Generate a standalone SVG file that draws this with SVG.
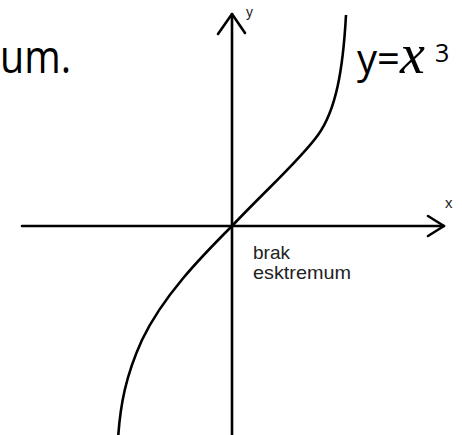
<svg xmlns="http://www.w3.org/2000/svg" width="462" height="435" viewBox="0 0 462 435">
<style>
.ax{stroke:#000;stroke-width:2.6;fill:none;stroke-linecap:round;stroke-linejoin:round}
.cv{stroke:#000;stroke-width:2.6;fill:none}
.big{font-family:"Open Sans","Liberation Sans",sans-serif;font-size:46px;fill:#000}
.sm{font-family:"Liberation Sans",Arial,sans-serif;fill:#222}
</style>
<rect width="462" height="435" fill="#fff"/>
<g id="axes">
<line class="ax" x1="22" y1="226" x2="444" y2="226"/>
<polyline class="ax" points="428,216 444,226 428,236"/>
<line class="ax" x1="232" y1="14" x2="232" y2="440"/>
<polyline class="ax" points="218,34 232,14 245,33"/>
</g>
<g id="curve">
<path class="cv" d="M346,15 C343,70 336,110 318,135 C300,160 268,188 232,226 C200,258 163,296 142,340 C126,375 120,405 118,440"/>
</g>
<g id="labels">
<text class="big" x="0" y="73" textLength="71" lengthAdjust="spacingAndGlyphs">um.</text>
<text x="357" y="73" font-family="'Open Sans','Liberation Sans',sans-serif" font-size="40" fill="#000"><tspan>y=</tspan><tspan x="400" font-family="'Liberation Serif',serif" font-style="italic" font-size="56">x</tspan><tspan x="435" y="62" font-size="25">3</tspan></text>
<text class="sm" x="246" y="17" font-size="14">y</text>
<text class="sm" x="445" y="208" font-size="15">x</text>
<text class="sm" x="253" y="259" font-size="19" textLength="37" lengthAdjust="spacingAndGlyphs">brak</text>
<text class="sm" x="253" y="279" font-size="19" textLength="98" lengthAdjust="spacingAndGlyphs">esktremum</text>
</g>
</svg>
